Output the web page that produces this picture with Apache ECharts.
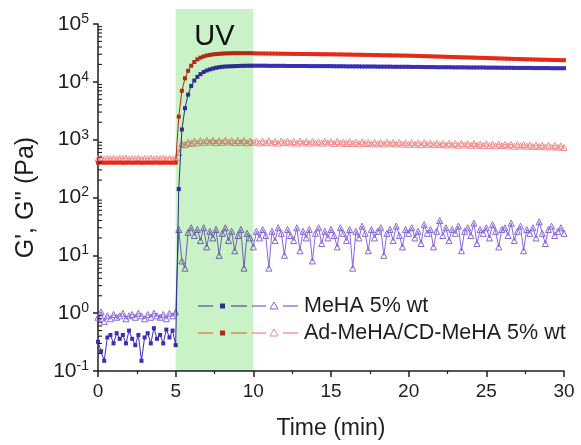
<!DOCTYPE html>
<html><head><meta charset="utf-8">
<script src="https://cdn.jsdelivr.net/npm/echarts@6/dist/echarts.min.js"></script>
<style>html,body{margin:0;padding:0;background:#fff}#c{width:581px;height:445px}</style>
</head><body><div id="c"></div>
<script>
// ---- data (time in min, moduli in Pa) ----
const time = [0,0.2,0.4,0.6,0.8,1,1.2,1.4,1.6,1.8,
2,2.2,2.4,2.6,2.8,3,3.2,3.4,3.6,3.8,
4,4.2,4.4,4.6,4.8,5,5.2,5.4,5.6,5.8,
6,6.2,6.4,6.6,6.8,7,7.2,7.4,7.6,7.8,
8,8.2,8.4,8.6,8.8,9,9.2,9.4,9.6,9.8,
10,10.2,10.4,10.6,10.8,11,11.2,11.4,11.6,11.8,
12,12.2,12.4,12.6,12.8,13,13.2,13.4,13.6,13.8,
14,14.2,14.4,14.6,14.8,15,15.2,15.4,15.6,15.8,
16,16.2,16.4,16.6,16.8,17,17.2,17.4,17.6,17.8,
18,18.2,18.4,18.6,18.8,19,19.2,19.4,19.6,19.8,
20,20.2,20.4,20.6,20.8,21,21.2,21.4,21.6,21.8,
22,22.2,22.4,22.6,22.8,23,23.2,23.4,23.6,23.8,
24,24.2,24.4,24.6,24.8,25,25.2,25.4,25.6,25.8,
26,26.2,26.4,26.6,26.8,27,27.2,27.4,27.6,27.8,
28,28.2,28.4,28.6,28.8,29,29.2,29.4,29.6,29.8,
30];

// MeHA 5% wt, G' (filled squares)
const mehaGp = [0.32,0.22,0.15,0.38,0.42,0.3,0.45,0.36,0.42,0.3,0.5,0.36,0.28,0.42,0.15,0.38,0.45,0.3,0.55,0.36,0.42,0.3,0.52,0.38,0.5,0.28,
140,1500,3500,6000,8500,10500,12200,13600,14800,15700,16400,17000,17500,17900,18200,
18400,18500,18600,18700,18800,18900,18900,19000,19000,19000,
19000,19000,19000,19000,18900,18900,18900,18900,18900,18900,18800,18800,18800,18800,18800,18800,18800,18700,18700,18700,18700,18700,18700,18700,18700,
18600,18600,18600,18600,18500,18500,18500,18500,18500,18400,18400,18400,18400,18400,18300,18300,18300,18300,18300,18200,18200,18200,18200,18200,18200,
18100,18100,18100,18100,18000,18000,18000,18000,17900,17900,17900,17900,17900,17800,17800,17800,17800,17800,17700,17700,17700,17700,17700,17700,17600,
17600,17600,17600,17500,17500,17500,17500,17500,17400,17400,17400,17400,17400,17400,17300,17300,17300,17300,17300,17300,17200,17200,17200,17200,17200];

// MeHA 5% wt, G'' (open triangles)
const mehaGpp = [0.85,1.05,0.72,0.9,0.8,0.95,0.85,0.9,1.0,0.8,0.9,0.95,0.85,1.0,0.9,0.8,0.95,0.85,1.0,0.9,0.85,0.95,0.8,1.0,0.9,1.05,
28,8,6,25,30,22,28,18,30,14,26,20,28,10,24,30,18,26,12,22,28,6,24,20,14,
26,20,28,22,6,26,18,30,24,10,28,22,18,30,12,26,20,28,8,24,30,16,26,20,28,
22,14,30,24,18,28,6,26,20,32,24,12,28,20,26,30,10,24,28,18,32,22,14,28,24,
30,20,26,16,34,24,28,14,26,40,22,30,18,28,24,32,12,26,30,22,36,16,28,24,30,
20,34,26,14,28,30,22,36,18,26,32,12,28,24,30,20,38,24,16,28,32,22,26,30,24];

// Ad-MeHA/CD-MeHA 5% wt, G' (filled squares)
const adGp = [400,402,398,400,401,399,400,402,398,400,401,399,400,402,398,400,401,399,400,402,398,400,401,399,400,400,
2500,7000,11500,15500,19000,22000,24500,26200,27500,28500,29200,29800,30200,30500,30800,
31000,31100,31200,31300,31300,31300,31300,31300,31300,31200,
31000,31000,30900,30900,30800,30800,30700,30700,30600,30600,30500,30500,30400,30400,30300,30300,30300,30200,30200,30100,30100,30000,30000,30000,29900,
29900,29800,29800,29700,29600,29600,29500,29400,29400,29300,29200,29200,29100,29000,29000,28900,28800,28800,28700,28600,28600,28500,28400,28400,28300,
28200,28100,28000,27900,27800,27700,27600,27500,27400,27300,27200,27100,27000,26900,26800,26700,26600,26500,26400,26300,26200,26100,26000,25900,25800,
25700,25600,25500,25400,25300,25200,25100,25000,24900,24800,24700,24600,24500,24500,24400,24300,24200,24100,24100,24000,23900,23800,23800,23700,23700];

// Ad-MeHA/CD-MeHA 5% wt, G'' (open triangles)
const adGpp = [470,480,465,475,470,480,465,475,470,480,465,475,470,480,465,475,470,480,465,475,470,480,465,475,470,480,
600,850,820,900,860,950,880,960,900,980,910,970,890,960,900,980,910,960,890,970,900,960,880,950,900,
950,880,940,890,960,880,930,870,950,890,940,880,930,870,950,880,930,870,940,880,920,870,940,880,920,
860,930,870,910,860,920,860,910,850,920,860,900,850,910,850,900,840,910,850,890,840,900,840,880,830,
890,830,880,820,890,830,870,820,880,820,860,810,870,810,860,800,870,810,850,800,860,800,840,790,850,
790,840,780,840,790,830,780,830,770,820,780,820,770,810,760,810,760,800,750,800,750,790,740,780,730];

const xTicks = {min: 0, max: 30, step: 5};
const yRange = {min: 0.1, max: 100000};
const uvWindow = [5, 10];
const seriesNames = ['MeHA 5% wt', 'Ad-MeHA/CD-MeHA 5% wt'];

// ---- chart ----
const FONT = '"Liberation Sans", Arial, sans-serif';
const INK = '#1e1e1e';
const C = {
  blueSq: '#3a2fb6', blueTri: '#8868dc',
  redSq: '#e62a16', redTri: '#f28c8c'
};
const pairs = ys => time.map((t, i) => [t, ys[i]]);

const chart = echarts.init(document.getElementById('c'), null, {renderer: 'canvas'});
chart.setOption({
  animation: false,
  backgroundColor: '#ffffff',
  grid: {left: 98, right: 17, top: 24, bottom: 73},
  xAxis: {
    type: 'value', min: xTicks.min, max: xTicks.max, interval: xTicks.step,
    axisLine: {lineStyle: {color: INK, width: 1.5}},
    axisTick: {length: 6, lineStyle: {color: INK, width: 1.5}},
    minorTick: {show: true, splitNumber: 2, length: 3, lineStyle: {color: INK, width: 1.2}},
    splitLine: {show: false},
    axisLabel: {fontSize: 19, color: INK, margin: 11, fontFamily: FONT},
    name: 'Time (min)', nameLocation: 'middle', nameGap: 46,
    nameTextStyle: {fontSize: 23, color: INK, fontFamily: FONT}
  },
  yAxis: {
    type: 'log', logBase: 10, min: yRange.min, max: yRange.max, splitNumber: 6,
    axisLine: {show: true, lineStyle: {color: INK, width: 1.5}},
    axisTick: {show: true, length: 5, lineStyle: {color: INK, width: 1.5}},
    splitLine: {show: false},
    axisLabel: {
      margin: 9, color: INK, fontFamily: FONT,
      formatter: v => '{b|10}{s|' + Math.round(Math.log10(v)) + '}',
      rich: {
        b: {fontSize: 21, color: INK, fontFamily: FONT},
        s: {fontSize: 14, color: INK, fontFamily: FONT, padding: [0, 0, 10, 0]}
      }
    },
    name: "G', G'' (Pa)", nameLocation: 'middle', nameGap: 59, nameRotate: 90,
    nameTextStyle: {fontSize: 25, color: INK, fontFamily: FONT}
  },
  series: [
    {name: seriesNames[0] + " G'", type: 'line', data: pairs(mehaGp), symbol: 'rect', symbolSize: 4,
      itemStyle: {color: C.blueSq}, lineStyle: {color: C.blueSq, width: 1}, z: 4},
    {name: seriesNames[0] + " G''", type: 'line', data: pairs(mehaGpp), symbol: 'triangle', symbolSize: 6,
      itemStyle: {color: 'rgba(0,0,0,0)', borderColor: C.blueTri, borderWidth: 1},
      lineStyle: {color: C.blueTri, width: 1}, z: 3},
    {name: seriesNames[1] + " G'", type: 'line', data: pairs(adGp), symbol: 'rect', symbolSize: 4,
      itemStyle: {color: C.redSq}, lineStyle: {color: C.redSq, width: 1}, z: 4},
    {name: seriesNames[1] + " G''", type: 'line', data: pairs(adGpp), symbol: 'triangle', symbolSize: 6,
      itemStyle: {color: 'rgba(0,0,0,0)', borderColor: C.redTri, borderWidth: 1},
      lineStyle: {color: C.redTri, width: 1}, z: 3}
  ]
});

// ---- decorations derived from the axes ----
const px = v => chart.convertToPixel({xAxisIndex: 0}, v);
const py = v => chart.convertToPixel({yAxisIndex: 0}, v);
const x0 = px(xTicks.min), yBot = py(yRange.min);
const graphics = [];

// log minor ticks (inside)
for (let d = -1; d < 5; d++) {
  for (let k = 2; k <= 9; k++) {
    const y = py(k * Math.pow(10, d));
    graphics.push({type: 'line', z: 50, shape: {x1: x0, y1: y, x2: x0 + 4, y2: y},
      style: {stroke: INK, lineWidth: 1.1}});
  }
}

// legend
const legendRows = [
  {y: 306, line1: '#6f62d8', sq: C.blueSq, line2: C.blueTri, tri: C.blueTri, text: seriesNames[0]},
  {y: 333, line1: '#ff8a58', sq: C.redSq, line2: C.redTri, tri: C.redTri, text: seriesNames[1]}
];
legendRows.forEach(r => {
  const seg = (a, b, col) => graphics.push({type: 'line', z: 10, shape: {x1: a, y1: r.y, x2: b, y2: r.y}, style: {stroke: col, lineWidth: 1.3}});
  seg(198, 213, r.line1); seg(231, 247, r.line1);
  graphics.push({type: 'rect', z: 10, shape: {x: 220, y: r.y - 2.5, width: 5, height: 5}, style: {fill: r.sq}});
  seg(252, 266, r.line2); seg(283, 298, r.line2);
  graphics.push({type: 'polygon', z: 10, shape: {points: [[274, r.y - 4], [278, r.y + 3], [270, r.y + 3]]},
    style: {fill: 'none', stroke: r.tri, lineWidth: 1}});
  graphics.push({type: 'text', z: 10, x: 304, y: r.y, style: {text: r.text, fontSize: 21.5, fontFamily: FONT, fill: INK, textVerticalAlign: 'middle', verticalAlign: 'middle'}});
});

// UV window (multiply-blended light green band)
const ux1 = px(uvWindow[0]), ux2 = px(uvWindow[1]);
graphics.push({type: 'rect', z: 100, shape: {x: ux1, y: 9, width: ux2 - ux1, height: yBot - 9},
  style: {fill: '#c9f2c6', blend: 'multiply'}});
graphics.push({type: 'text', z: 110, x: (ux1 + ux2) / 2, y: 37,
  style: {text: 'UV', fontSize: 29, fontFamily: FONT, fill: '#111', textAlign: 'center', align: 'center', textVerticalAlign: 'middle', verticalAlign: 'middle'}});

chart.setOption({graphic: {elements: graphics}});
</script></body></html>
